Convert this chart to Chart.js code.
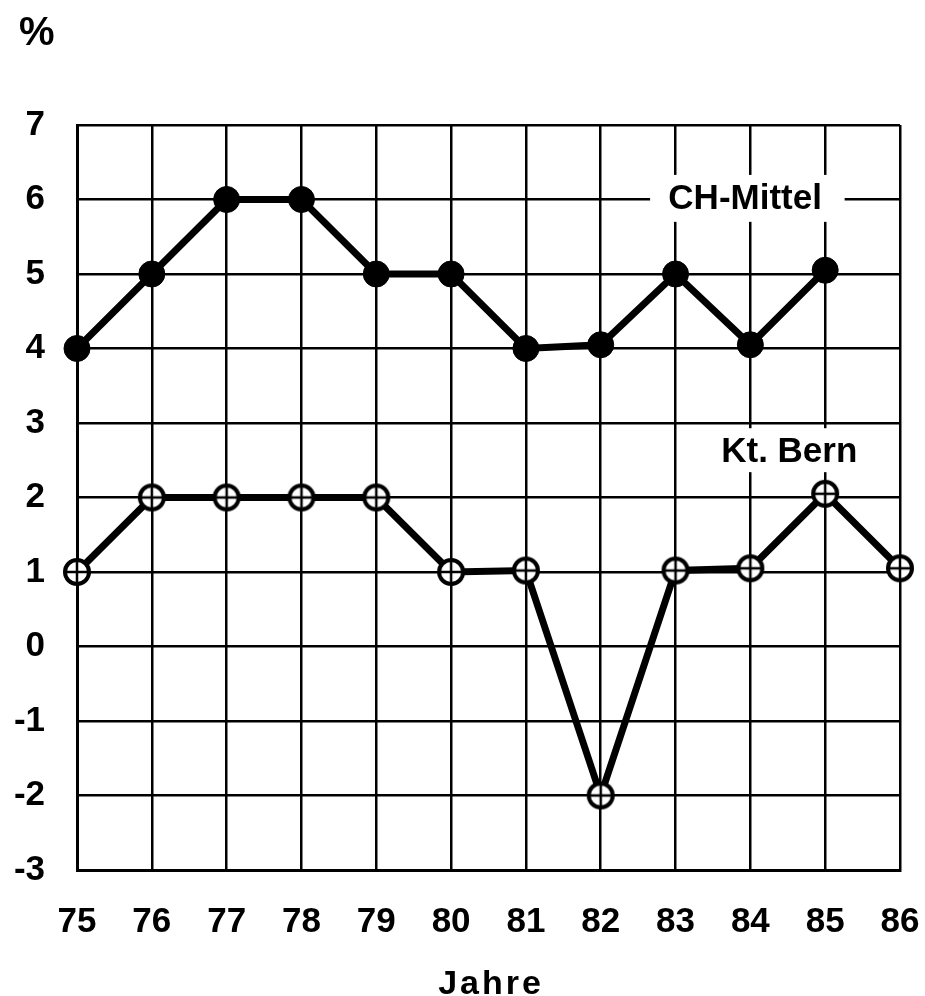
<!DOCTYPE html>
<html>
<head>
<meta charset="utf-8">
<script src="https://cdn.jsdelivr.net/npm/chart.js@4.4.1/dist/chart.umd.min.js"></script>
<style>
  html, body { margin: 0; padding: 0; background: #fff; }
  #wrap { width: 925px; height: 996px; }
</style>
</head>
<body>
<div id="wrap"><canvas id="chart" width="925" height="996"></canvas></div>
<script>
const years = [75, 76, 77, 78, 79, 80, 81, 82, 83, 84, 85, 86];
const chMittel = [4, 5, 6, 6, 5, 5, 4, 4.05, 5, 4.05, 5.05];
const ktBern = [1, 2, 2, 2, 2, 1, 1.02, -2, 1.02, 1.05, 2.05, 1.05];
const yTicks = [-3, -2, -1, 0, 1, 2, 3, 4, 5, 6, 7];

const FONT = '"Liberation Sans", Arial, sans-serif';

// open circle with cross (Kt. Bern marker)
function crossCircle(r) {
    const c = document.createElement('canvas');
    const s = r * 2 + 8;
    c.width = s; c.height = s;
    const g = c.getContext('2d');
    const m = s / 2;
    g.fillStyle = '#fff';
    g.strokeStyle = '#000';
    g.lineWidth = 4;
    g.beginPath();
    g.arc(m, m, r, 0, Math.PI * 2);
    g.fill();
    g.stroke();
    g.lineWidth = 2.5;
    g.beginPath();
    g.moveTo(m - r, m); g.lineTo(m + r, m);
    g.moveTo(m, m - r); g.lineTo(m, m + r);
    g.stroke();
    return c;
}

const textPlugin = {
    id: 'texts',
    beforeDatasetsDraw(chart) {
        const ctx = chart.ctx;
        const x = chart.scales.x, y = chart.scales.y;
        ctx.save();
        ctx.font = 'bold 35px ' + FONT;
        ctx.textAlign = 'center';
        ctx.textBaseline = 'middle';
        // series labels sit on white boxes that break the grid
        ctx.fillStyle = '#fff';
        let x0 = x.getPixelForValue(82.66), x1 = x.getPixelForValue(85.26);
        let y0 = y.getPixelForValue(6.33), y1 = y.getPixelForValue(5.70);
        ctx.fillRect(x0, y0, x1 - x0, y1 - y0);
        x0 = x.getPixelForValue(83.46); x1 = x.getPixelForValue(85.6);
        y0 = y.getPixelForValue(2.93); y1 = y.getPixelForValue(2.34);
        ctx.fillRect(x0, y0, x1 - x0, y1 - y0);
        ctx.fillStyle = '#000';
        ctx.fillText('CH-Mittel', x.getPixelForValue(83.93), y.getPixelForValue(6.0));
        ctx.fillText('Kt. Bern', x.getPixelForValue(84.52), y.getPixelForValue(2.61));
        ctx.restore();
    },
    afterDraw(chart) {
        const ctx = chart.ctx;
        ctx.save();
        ctx.fillStyle = '#000';
        ctx.textBaseline = 'middle';
        ctx.textAlign = 'left';
        ctx.font = 'bold 40px ' + FONT;
        ctx.fillText('%', 19, 34);
        ctx.font = 'bold 34px ' + FONT;
        ctx.textAlign = 'center';
        ctx.textBaseline = 'alphabetic';
        ctx.letterSpacing = '3px';
        ctx.fillText('Jahre', 491, 994);
        ctx.restore();
    }
};

new Chart(document.getElementById('chart'), {
    type: 'line',
    data: {
        datasets: [{
            label: 'CH-Mittel',
            data: chMittel.map((v, i) => ({ x: years[i], y: v })),
            borderColor: '#000',
            borderWidth: 7,
            pointStyle: 'circle',
            pointRadius: 13,
            pointBackgroundColor: '#000',
            pointBorderColor: '#000',
            pointBorderWidth: 1,
            clip: false,
            tension: 0
        }, {
            label: 'Kt. Bern',
            data: ktBern.map((v, i) => ({ x: years[i], y: v })),
            borderColor: '#000',
            borderWidth: 7,
            pointStyle: crossCircle(12),
            clip: false,
            tension: 0
        }]
    },
    options: {
        responsive: false,
        animation: false,
        layout: { padding: { top: 125, right: 25, left: 0, bottom: 0 } },
        plugins: {
            legend: { display: false },
            tooltip: { enabled: false }
        },
        scales: {
            x: {
                type: 'linear',
                min: 75,
                max: 86,
                afterFit(s) { s.height = 126; s.paddingRight = 0; s.paddingLeft = 0; },
                afterBuildTicks(s) { s.ticks = years.map(v => ({ value: v })); },
                grid: { color: '#000', lineWidth: 2.5, drawTicks: false },
                border: { color: '#000', width: 3 },
                ticks: {
                    padding: 31,
                    color: '#000',
                    font: { family: FONT, size: 35, weight: 'bold' },
                    maxRotation: 0
                }
            },
            y: {
                min: -3,
                max: 7,
                afterFit(s) { s.width = 77; s.paddingTop = 0; s.paddingBottom = 0; },
                afterBuildTicks(s) { s.ticks = yTicks.map(v => ({ value: v })); },
                grid: { color: '#000', lineWidth: 2.5, drawTicks: false },
                border: { color: '#000', width: 3 },
                ticks: {
                    padding: 32,
                    color: '#000',
                    font: { family: FONT, size: 35, weight: 'bold' }
                }
            }
        }
    },
    plugins: [textPlugin]
});
</script>
</body>
</html>
